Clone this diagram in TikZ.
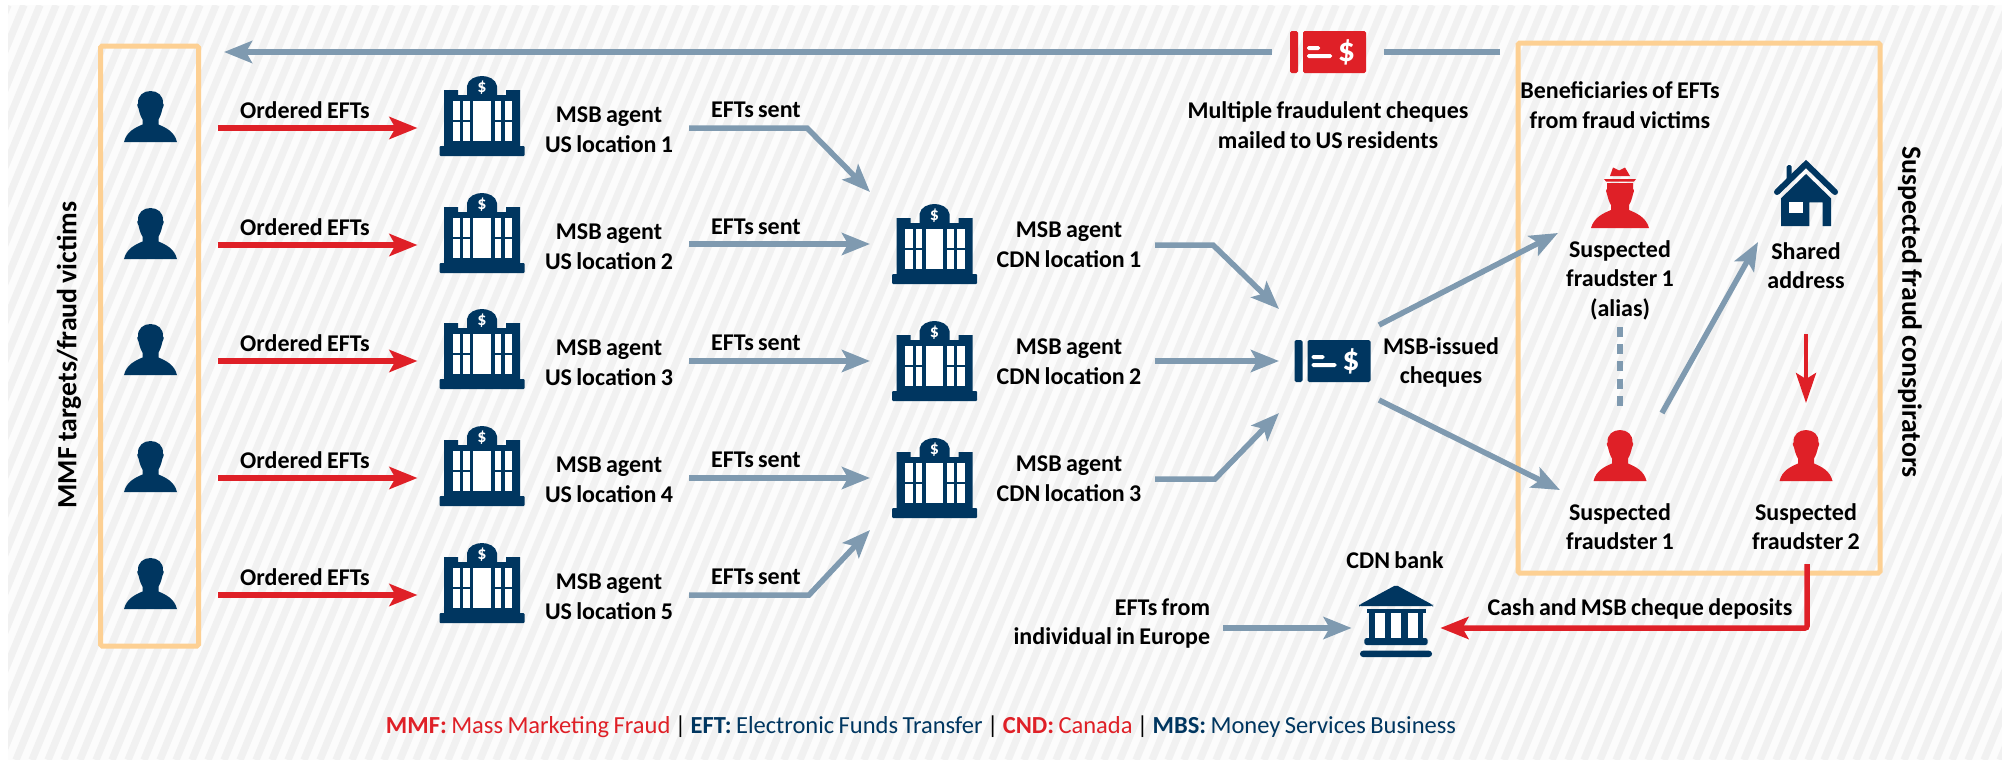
\documentclass[tikz,border=0pt]{standalone}
\usepackage{fontspec}
\setmainfont[WordSpace=0.8]{Carlito}
\usepackage{tikz}
\usetikzlibrary{arrows.meta,positioning}

\definecolor{fraudred}{HTML}{DF2027}
\definecolor{navyicon}{HTML}{003660}
\definecolor{steelarrow}{HTML}{7F9AB0}
\definecolor{boxorange}{HTML}{FDD093}
\definecolor{stripegray}{HTML}{F1F1F1}

\tikzset{
  pics/personicon/.style={code={
    \fill[#1] (-26.5,25.5) .. controls (-24,15) and (-15,11) .. (-8,8)
      -- (-8,3) .. controls (-10,0) and (-11,-4) .. (-12,-8)
      .. controls (-13.5,-9) and (-13.5,-13) .. (-12.5,-13)
      .. controls (-13,-21) and (-7,-25.5) .. (0,-25.5)
      .. controls (7,-25.5) and (13,-21) .. (12.5,-13)
      .. controls (13.5,-13) and (13.5,-9) .. (12,-8)
      .. controls (11,-4) and (10,0) .. (8,3)
      -- (8,8) .. controls (15,11) and (24,15) .. (26.5,25.5) -- cycle;
  }},
  pics/hatperson/.style={code={
    \fill[#1] (-29,30) .. controls (-26,19) and (-16,15) .. (-9,12)
      -- (-9,7) .. controls (-11,4) and (-12,0) .. (-13,-4)
      .. controls (-14.5,-5) and (-14,-9) .. (-13,-9) -- (-13,-15) -- (13,-15) -- (13,-9)
      .. controls (14,-9) and (14.5,-5) .. (13,-4)
      .. controls (12,0) and (11,4) .. (9,7)
      -- (9,12) .. controls (16,15) and (26,19) .. (29,30) -- cycle;
    \fill[#1] (-16,-19) -- (16,-19) -- (14,-16.5) -- (-14,-16.5) -- cycle;
    \fill[#1] (-10,-22) -- (-7,-30.5) -- (-1,-27.5) -- (5,-30.5) -- (10,-22) -- cycle;
  }},
  pics/agencyicon/.style={code={
    \fill[navyicon,rounded corners=0.5pt] (-42.5,30) rectangle (42.5,40);
    \fill[navyicon] (-38,31) -- (-38,-26) -- (-24,-26) -- (-24,-21) -- (-15,-21) -- (-15,-30)
      .. controls (-14,-37) and (-6,-40) .. (0,-40)
      .. controls (6,-40) and (14,-37) .. (15,-30)
      -- (15,-21) -- (24,-21) -- (24,-26) -- (38,-26) -- (38,31) -- cycle;
    \foreach \wa/\wb in {-29.5/-22,-19/-12.5,12.5/19,22.5/30} {
      \fill[white] (\wa,-14.7) rectangle (\wb,3.7);
      \fill[white] (\wa,6.3) rectangle (\wb,24.7);
    }
    \fill[white] (-8.75,-14.7) rectangle (8.75,24.7);
    \node[dollarmark,font=\fontsize{9pt}{9pt}\bfseries] (-dollar) at (0,-28) {\$};
  }},
  pics/chequeicon/.style={code={
    \fill[#1,rounded corners=0.8pt] (-38,-21) rectangle (-30,21);
    \fill[#1,rounded corners=0.8pt] (-25,-21) rectangle (38,21);
    \fill[white,rounded corners=0.8pt] (-21,-6) rectangle (-8,-2);
    \fill[white,rounded corners=0.8pt] (-21,2) rectangle (4,6);
    \node[dollarmark,font=\fontsize{17pt}{18pt}\bfseries] (-dollar) at (18.5,0) {\$};
  }},
  pics/houseicon/.style={code={
    \fill[navyicon,rounded corners=0.8pt] (-19.3,-12) -- (-19.3,-28) -- (-14.3,-28) -- (-14.3,-12) -- cycle;
    \draw[navyicon,line width=3pt,line cap=round,line join=miter] (-29,-1) -- (0,-29) -- (29,-1);
    \fill[navyicon] (-25,5.3) -- (0,-19) -- (25,5.3) -- (25,33) -- (16.7,33) -- (16.7,9.3)
      -- (3.3,9.3) -- (3.3,33) -- (-25,33) -- cycle;
    \fill[white] (-16.7,9.3) rectangle (-3.3,20.3);
  }},
  pics/bankicon/.style={code={
    \fill[navyicon,rounded corners=1pt] (0,-36) -- (37,-16) -- (37,-15) -- (-37,-15) -- (-37,-16) -- cycle;
    \fill[navyicon] (-29.5,-11.7) rectangle (30,-8.3);
    \fill[navyicon] (-27.3,-8.3) rectangle (27.3,21.7);
    \foreach \wa/\wb in {-20.7/-11,-5/5,11.7/21.7} {
      \fill[white] (\wa,-8.3) rectangle (\wb,17);
    }
    \fill[navyicon,rounded corners=1.2pt] (-31.7,17) rectangle (31.7,24);
    \fill[navyicon,rounded corners=1.5pt] (-36,29.7) rectangle (36,36);
  }}
}

\begin{document}
\begin{tikzpicture}[
  x=0.5pt,y=-0.5pt,
  dollarmark/.style={text=white,inner sep=0pt},
  slot/.style={inner sep=0pt,outer sep=0pt,minimum height=52pt},
  lbl/.style={font=\fontsize{12pt}{14.8pt}\selectfont\bfseries,align=flush center,inner sep=0pt,outer sep=0pt},
  sidelbl/.style={font=\fontsize{13.9pt}{16pt}\selectfont\bfseries,inner sep=0pt},
  framebox/.style={draw=boxorange,line width=2.5pt,rounded corners=0.8pt,inner sep=0pt},
  stripeline/.style={stripegray,line width=3.6pt},
  steelflow/.style={draw=steelarrow,line width=2.75pt,-{Stealth[length=14pt,width=11pt,inset=3pt]}},
  redflow/.style={draw=fraudred,line width=2.75pt,-{Stealth[length=14pt,width=11pt,inset=3pt]}},
  redthin/.style={draw=fraudred,line width=2pt,-{Stealth[length=15pt,width=10pt,inset=3pt]}}
]
\useasboundingbox (0,0) rectangle (2002,760);

\fill[white] (0,0) rectangle (2002,760);
\begin{scope}
  \clip (8,5) rectangle (2002,760);
  \fill[stripegray!20] (8,5) rectangle (2002,760);
  \foreach \sx in {-320,-304,...,2010} {
    \draw[stripeline] (\sx,760) -- ++(312,-755);
  }
\end{scope}

\node[framebox,minimum width=49pt,minimum height=300pt] (targets) at (149.5,346) {};
\node[framebox,minimum width=181pt,minimum height=265pt] (conspirators) at (1699,308) {};
\node[sidelbl,rotate=90] (targetslbl) at (69,355) {MMF targets/fraud victims};
\node[sidelbl,rotate=-90] (conspiratorslbl) at (1910,312) {Suspected fraud conspirators};

\foreach \row/\ry in {1/128,2/245,3/361,4/478,5/595} {
  \node[slot,minimum width=67.5pt] (victim\row) at (150.5,\ry) {};
  \pic at (150.5,\ry-11.5) {personicon=navyicon};
  \node[slot,minimum width=64.5pt] (usagent\row) at (482,\ry) {};
  \pic (iconus\row) at (482,\ry-12) {agencyicon};
  \node[lbl,text width=80pt] (uslbl\row) at (609,\ry+2) {MSB agent\\US location \row};
  \node[lbl] (orderedlbl\row) at (305,\ry-18) {Ordered EFTs};
  \node[lbl] (sentlbl\row) at (756,\ry-18) {EFTs sent};
  \draw[redflow] (victim\row.east) -- (victim\row.east -| usagent\row.west);
}

\foreach \row/\ry in {1/244,2/361,3/478} {
  \node[slot,minimum width=64.5pt] (cdnagent\row) at (934.5,\ry) {};
  \pic (iconcdn\row) at (934.5,\ry) {agencyicon};
  \node[lbl,text width=86pt] (cdnlbl\row) at (1069,\ry+1) {MSB agent\\CDN location \row};
}

\node[slot,minimum width=53.5pt] (issued) at (1332.5,361) {};
\pic (iconissued) at (1332.5,361) {chequeicon=navyicon};
\node[lbl] (issuedlbl) at (1441,362.5) {MSB-issued\\cheques};

\node[inner sep=0pt,minimum width=56pt,minimum height=21pt] (mailed) at (1328,52) {};
\pic (iconmailed) at (1328,52) {chequeicon=fraudred};
\node[lbl] (mailedlbl) at (1328,125) {Multiple fraudulent cheques\\mailed to US residents};

\node[lbl] (beneficiaries) at (1620,105) {Beneficiaries of EFTs\\from fraud victims};
\node[inner sep=0pt,minimum width=62pt,minimum height=30pt] (aliasicon) at (1620,198) {};
\pic at (1620,198) {hatperson=fraudred};
\node[lbl,text width=62pt] (aliaslbl) at (1620,280) {Suspected\\fraudster 1\\(alias)};
\node[inner sep=0pt,minimum width=32pt,minimum height=33pt] (house) at (1806,193) {};
\pic at (1806,193) {houseicon};
\node[lbl] (sharedlbl) at (1806,265.5) {Shared\\address};
\node[inner sep=0pt,minimum width=42pt,minimum height=34pt] (fraudA) at (1620,447) {};
\pic at (1620,455.5) {personicon=fraudred};
\node[inner sep=0pt,minimum width=42pt,minimum height=34pt] (fraudB) at (1806,447) {};
\pic at (1806,455.5) {personicon=fraudred};
\node[lbl,text width=62pt] (fraudAlbl) at (1620,526.5) {Suspected\\fraudster 1};
\node[lbl] (fraudBlbl) at (1806,526.5) {Suspected\\fraudster 2};

\node[lbl] (banklbl) at (1395,560) {CDN bank};
\node[inner sep=0pt,minimum width=44pt,minimum height=36pt] (bank) at (1396,628) {};
\pic at (1396,621) {bankicon};
\node[lbl,align=right,anchor=east] (europelbl) at (1210,623.5) {EFTs from\\individual in Europe};
\node[lbl] (depositlbl) at (1640,609) {Cash and MSB cheque deposits};

\node[font=\fontsize{12.25pt}{14pt}\selectfont,inner sep=0pt] (legend) at (921,727) {%
  \textcolor{fraudred}{\textbf{MMF:} Mass Marketing Fraud} | %
  \textcolor{navyicon}{\textbf{EFT:} Electronic Funds Transfer} | %
  \textcolor{fraudred}{\textbf{CND:} Canada} | %
  \textcolor{navyicon}{\textbf{MBS:} Money Services Business}};

\coordinate (mailedtail) at (1500,52);
\coordinate (mailedtip) at (224,52);
\coordinate (issuedoutA) at (1379,325);
\coordinate (issuedoutB) at (1379,400);
\coordinate (aliasin) at (1558,233);
\coordinate (fraudAin) at (1560,490);
\coordinate (alongA) at (1662,413);
\coordinate (sharedin) at (1758,242);
\coordinate (sharedout) at (1806,334);
\coordinate (fraudBin) at (1806,403);
\coordinate (depositout) at (1807,564);
\coordinate (aliasend) at (1620,413);
\coordinate (aliasstart) at (1620,327);
\coordinate (europeout) at (1223,628);

\draw[draw=steelarrow,line width=2.75pt] (mailedtail) -- (mailed.east);
\draw[steelflow] (mailed.west) -- (mailedtip);

\draw[steelflow] (uslbl1.east |- victim1.east) -- ++(118,0) -- (cdnagent1.north west);
\draw[steelflow] (uslbl2.east |- cdnagent1.west) -- (cdnagent1.west);
\draw[steelflow] (uslbl3.east |- cdnagent2.west) -- (cdnagent2.west);
\draw[steelflow] (uslbl4.east |- cdnagent3.west) -- (cdnagent3.west);
\draw[steelflow] (uslbl5.east |- victim5.east) -- ++(120,0) -- (cdnagent3.south west);

\draw[steelflow] (cdnlbl1.east) -- ++(58,0) -- (issued.north west);
\draw[steelflow] (cdnlbl2.east |- issued.west) -- (issued.west);
\draw[steelflow] (cdnlbl3.east) -- ++(60,0) -- (issued.south west);

\draw[steelflow] (issuedoutA) -- (aliasin);
\draw[steelflow] (issuedoutB) -- (fraudAin);
\draw[draw=steelarrow,line width=2.75pt,dash pattern=on 5pt off 3.6pt] (aliasstart) -- (aliasend);
\draw[steelflow] (alongA) -- (sharedin);
\draw[redthin] (sharedout) -- (fraudBin);

\draw[steelflow] (europeout) -- (bank.west);
\draw[redflow,rounded corners=1pt] (depositout) |- (bank.east);
\end{tikzpicture}
\end{document}
